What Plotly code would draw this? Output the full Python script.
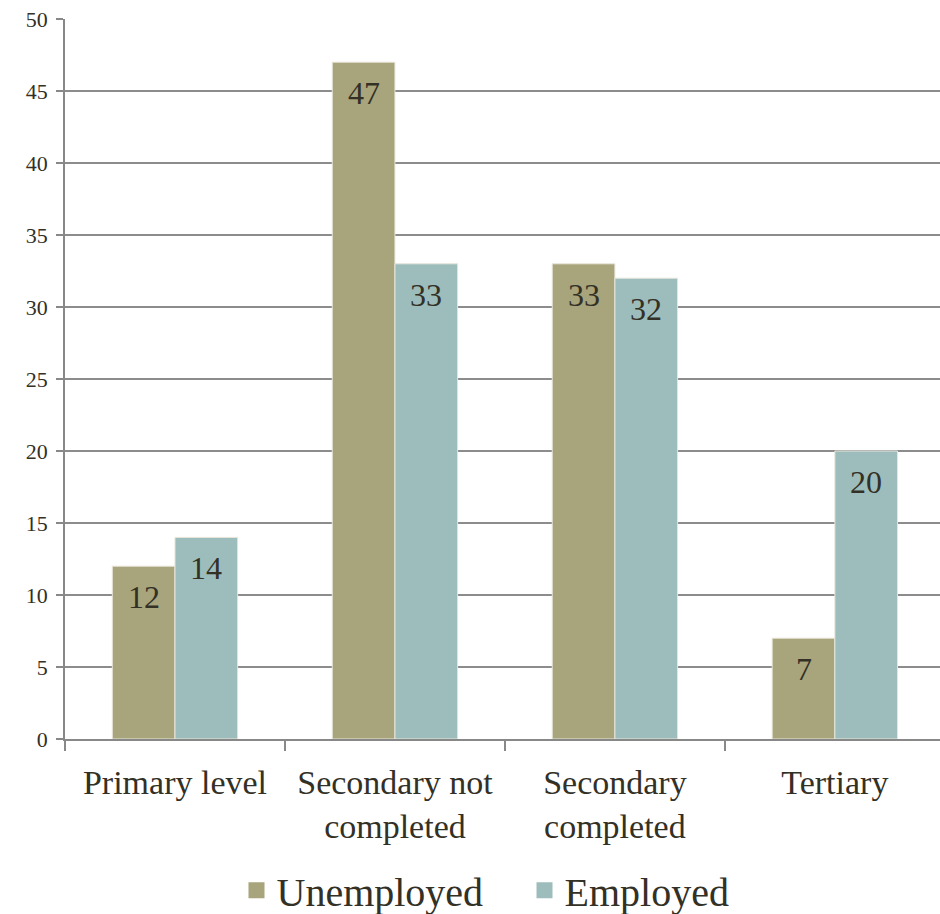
import plotly.graph_objects as go

categories = ["Primary level", "Secondary not<br>completed", "Secondary<br>completed", "Tertiary"]
unemployed = [12, 47, 33, 7]
employed = [14, 33, 32, 20]
series_names = ["Unemployed", "Employed"]
y_ticks = [0, 5, 10, 15, 20, 25, 30, 35, 40, 45, 50]

FONT = "Liberation Serif"
TXT = "#333026"
COLORS = ["#A8A47B", "#9DBDBC"]

fig = go.Figure()
for name, vals, col in zip(series_names, [unemployed, employed], COLORS):
    fig.add_trace(go.Bar(
        name=name, x=categories, y=vals,
        marker=dict(color=col, line=dict(color="#E8E6DA", width=1)),
        hoverinfo="skip", showlegend=False,
    ))
    # legend entry with a larger square swatch
    fig.add_trace(go.Scatter(
        name=name, x=[None], y=[None], mode="markers",
        marker=dict(symbol="square", size=22, color=col), showlegend=True,
    ))

for vals, shift in [(unemployed, -31), (employed, 31)]:
    for c, v in zip(categories, vals):
        fig.add_annotation(x=c, y=v, text=str(v), showarrow=False,
                           xshift=shift, yshift=-11, yanchor="top",
                           font=dict(family=FONT, size=32, color=TXT))

fig.update_layout(
    width=940, height=914,
    margin=dict(l=65, r=0, t=19, b=175, autoexpand=False),
    paper_bgcolor="white", plot_bgcolor="white",
    barmode="group", bargap=0.43, bargroupgap=0,
    font=dict(family=FONT, color=TXT),
    legend=dict(orientation="h", x=0.196, xanchor="left", y=-0.21, yanchor="middle",
                font=dict(family=FONT, size=40, color=TXT), itemsizing="trace",
                itemwidth=30, entrywidth=243, tracegroupgap=0),
    showlegend=True,
)
fig.update_xaxes(
    type="category", range=[-0.5, 3.478], tickson="boundaries",
    ticks="outside", ticklen=10, tickcolor="#888888", tickwidth=1.5,
    showline=True, linecolor="#888888", linewidth=1.5,
    showgrid=False, tickfont=dict(family=FONT, size=34, color=TXT),
    ticklabelstandoff=12,
)
fig.update_yaxes(
    range=[0, 50], tickvals=y_ticks, ticks="outside", ticklen=7,
    tickcolor="#888888", tickwidth=1.5,
    showline=True, linecolor="#888888", linewidth=1.5,
    showgrid=True, gridcolor="#8C8C8C", gridwidth=1.5,
    zeroline=False, tickfont=dict(family=FONT, size=22, color=TXT),
    ticklabelstandoff=4,
)

fig.write_html("out.html")
